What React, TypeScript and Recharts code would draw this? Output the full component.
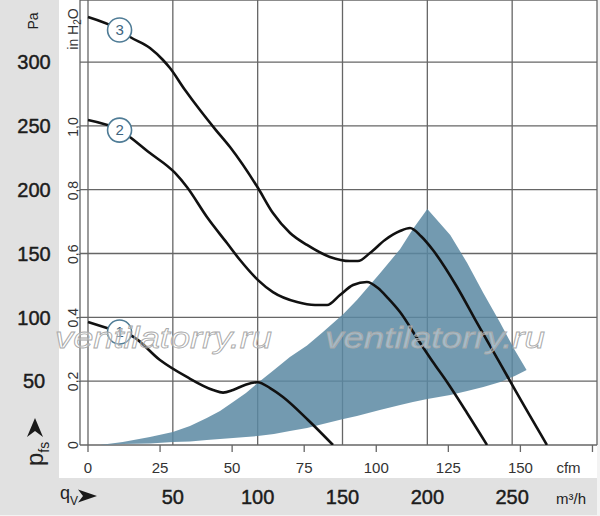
import React from 'react';
import { ComposedChart, Line, Area, XAxis, YAxis, CartesianGrid, ReferenceDot } from 'recharts';

const FONT = '"Liberation Sans", Arial, Helvetica, sans-serif';
const PA_PER_INH2O = 249.089;
const M3H_PER_CFM = 1.699011;

// fan curves: x = volume flow (m³/h), p = static pressure (Pa)
const curve1 = [
  { x: 0, p: 96.3 }, { x: 18.6, p: 88.5 }, { x: 25.9, p: 85.4 }, { x: 42.4, p: 66.6 },
  { x: 58.3, p: 53.3 }, { x: 73.7, p: 43.1 }, { x: 79.6, p: 41 }, { x: 85.5, p: 43.1 },
  { x: 92.5, p: 47 }, { x: 100, p: 49.2 }, { x: 107.3, p: 44.6 }, { x: 114.9, p: 37.6 },
  { x: 129.7, p: 19.6 }, { x: 144.4, p: 0 },
];
const curve2 = [
  { x: 0, p: 254.6 }, { x: 18.6, p: 246.7 }, { x: 36.5, p: 228.7 }, { x: 51.3, p: 213.1 },
  { x: 58.3, p: 202.1 }, { x: 70.1, p: 178.6 }, { x: 81.9, p: 158.2 }, { x: 89.6, p: 144.9 },
  { x: 100.2, p: 129.2 }, { x: 109, p: 119.8 }, { x: 123.2, p: 112 }, { x: 133.8, p: 109.7 },
  { x: 140.9, p: 109.7 }, { x: 148.5, p: 117.5 }, { x: 156.2, p: 125.3 }, { x: 164.4, p: 127.7 },
  { x: 170.9, p: 123 }, { x: 176.8, p: 115.1 }, { x: 183.9, p: 104.2 }, { x: 193.9, p: 83.8 },
  { x: 203.3, p: 65 }, { x: 211.6, p: 49.3 }, { x: 223.4, p: 25.1 }, { x: 235.2, p: 0 },
];
const curve3 = [
  { x: 0, p: 335.2 }, { x: 18.6, p: 325.1 }, { x: 24.8, p: 319.6 }, { x: 36.5, p: 311 },
  { x: 44.2, p: 301.6 }, { x: 48.3, p: 295.3 }, { x: 57.2, p: 278.1 }, { x: 66, p: 262.4 },
  { x: 74.9, p: 247.5 }, { x: 83.7, p: 233.4 }, { x: 100.2, p: 201.3 },
  { x: 109, p: 181.7 }, { x: 119.1, p: 166.1 }, { x: 129.1, p: 156.7 }, { x: 142.6, p: 147.3 },
  { x: 154.4, p: 144.1 }, { x: 159.1, p: 144.1 }, { x: 166.2, p: 150.4 }, { x: 175, p: 160.6 },
  { x: 183.9, p: 167.6 }, { x: 189.8, p: 170 }, { x: 196.3, p: 163.5 }, { x: 203.3, p: 152.7 },
  { x: 217.5, p: 123.8 }, { x: 229.3, p: 95.6 }, { x: 242.8, p: 64.2 }, { x: 251.7, p: 43.1 },
  { x: 270.5, p: 0 },
];

// recommended operating zone (shaded)
const zoneFlow = [7, 20.5, 36.5, 50, 60.1, 70, 77.8, 85.5, 93.1, 100, 109.6, 119, 129.1, 138.5, 150.5, 158.5, 172, 184, 191.5, 200, 213.5, 223.5, 233, 243, 251.5, 258.5];
const zoneLow = [0, 0.8, 1.2, 2.3, 2.7, 3.9, 4.7, 5.5, 6.3, 7, 8.6, 11, 13.3, 16.4, 20.4, 22.7, 27.4, 31.3, 33.7, 36, 39.2, 42.3, 45.4, 49.3, 54, 58.7];
const zoneHigh = [0, 2.3, 6.3, 10.2, 14.9, 21.1, 26.6, 33.7, 40.7, 48.6, 58.7, 68.9, 78, 88.5, 102.6, 113.6, 134.4, 153.5, 169.2, 184.9, 164.5, 142.6, 119.1, 95.6, 74.4, 58.7];
const zoneData = zoneFlow.map((x, i) => ({ x, r: [zoneLow[i], zoneHigh[i]] }));

const paTicks = [0, 50, 100, 150, 200, 250, 300];
const inTicks = [0, 0.2, 0.4, 0.6, 0.8, 1.0];
const cfmTicks = [0, 25, 50, 75, 100, 125, 150, 175];
const m3hTicks = [0, 50, 100, 150, 200, 250, 300];
const curveNames = ['1', '2', '3'];
const curves = [curve1, curve2, curve3];
const cfmAnchor = cfmTicks.map((v) => ({ cfm: v }));

const X_MIN = -4.715;
const X_MAX = 300;
const Y_MAX = 348.6;

const PaTick = (props: any) => {
  const { x, y, payload } = props;
  if (payload.value === 0) return <g />;
  return (
    <text x={x - 26} y={y} dy="0.36em" textAnchor="middle" fontSize={20} fill="#1c1c1c" stroke="#1c1c1c" strokeWidth={0.45} fontFamily={FONT}>
      {payload.value}
    </text>
  );
};

const InTick = (props: any) => {
  const { x, y, payload } = props;
  const cx = x - 7;
  const v = payload.value === 0 ? '0' : Number(payload.value).toFixed(1).replace('.', ',');
  return (
    <text x={cx} y={y} dy="0.36em" textAnchor="middle" transform={`rotate(-90 ${cx} ${y})`} fontSize={14} fill="#333" fontFamily={FONT}>
      {v}
    </text>
  );
};

const CfmTick = (props: any) => {
  const { x, y, payload } = props;
  if (payload.value === 175) {
    return (
      <text x={x - 24} y={y + 21} textAnchor="middle" fontSize={15} fill="#333" fontFamily={FONT}>cfm</text>
    );
  }
  return (
    <text x={x} y={y + 21} textAnchor="middle" fontSize={15} fill="#333" fontFamily={FONT}>{payload.value}</text>
  );
};

const M3hTick = (props: any) => {
  const { x, y, payload } = props;
  if (payload.value === 0) return <g />;
  if (payload.value === 300) {
    return (
      <text x={x - 26} y={y + 29} textAnchor="middle" fontSize={15} fill="#222" fontFamily={FONT}>m³/h</text>
    );
  }
  return (
    <text x={x} y={y + 29} textAnchor="middle" fontSize={20} fill="#1c1c1c" stroke="#1c1c1c" strokeWidth={0.45} fontFamily={FONT}>{payload.value}</text>
  );
};

const paTitle = (props: any) => {
  const vb = props.viewBox || { x: 0, y: 0, width: 60, height: 445 };
  const cx = vb.x + 33;
  const ty = vb.y + 21;
  const b = vb.y + vb.height;
  const ax = vb.x + 35;
  const px = vb.x + 43;
  const py = b + 21;
  return (
    <g>
      <text x={cx} y={ty} dy="0.35em" textAnchor="middle" transform={`rotate(-90 ${cx} ${ty})`} fontSize={14} fill="#222" fontFamily={FONT}>Pa</text>
      <path d={`M${ax} ${b - 27} L${ax + 8} ${b - 8} L${ax} ${b - 14} L${ax - 8} ${b - 8} Z`} fill="#1a1a1a" />
      <text x={px} y={py} transform={`rotate(-90 ${px} ${py})`} fill="#222" fontFamily={FONT}>
        <tspan fontSize={24}>p</tspan>
        <tspan fontSize={14} dy={6}>fs</tspan>
      </text>
    </g>
  );
};

const inTitle = (props: any) => {
  const vb = props.viewBox || { x: 60, y: 0, width: 20, height: 445 };
  const cx = vb.x + 13;
  const cy = vb.y + 29;
  return (
    <text x={cx} y={cy} dy="0.36em" textAnchor="middle" transform={`rotate(-90 ${cx} ${cy})`} fontSize={14} fill="#333" fontFamily={FONT}>
      <tspan>in H</tspan>
      <tspan fontSize={10} dy={3}>2</tspan>
      <tspan dy={-3}>O</tspan>
    </text>
  );
};

const qTitle = (props: any) => {
  const vb = props.viewBox || { x: 80, y: 475, width: 517, height: 41 };
  const x0 = vb.x;
  const yb = vb.y + 23.5;
  return (
    <g>
      <text x={x0 - 20} y={yb} fill="#222" fontFamily={FONT}>
        <tspan fontSize={18}>q</tspan>
        <tspan fontSize={12} dy={6}>V</tspan>
      </text>
      <path d={`M${x0 - 2} ${yb - 9} L${x0 + 17} ${yb - 2.5} L${x0 - 2} ${yb + 4} L${x0 + 3} ${yb - 2.5} Z`} fill="#1a1a1a" />
    </g>
  );
};

export default function App() {
  return (
    <div style={{ position: 'relative', width: 600, height: 516, background: '#f3f3f3', fontFamily: FONT }}>
      <style>{`body{margin:0;}`}</style>
      <div style={{ position: 'absolute', left: 0, top: 0, width: 597, height: 515, background: '#e1e1e1' }} />
      <div style={{ position: 'absolute', left: 59, top: 0, width: 538, height: 478, background: '#ffffff' }} />
      <div style={{ position: 'absolute', left: 0, top: 0 }}>
        <ComposedChart width={600} height={516} margin={{ top: 0, right: 3, bottom: 0, left: 0 }}>
          <CartesianGrid xAxisId="m" yAxisId="pa" stroke="#666666" strokeWidth={1.3} />
          <XAxis
            xAxisId="c"
            dataKey="cfm"
            type="number"
            domain={[X_MIN / M3H_PER_CFM, X_MAX / M3H_PER_CFM]}
            allowDataOverflow
            ticks={cfmTicks}
            interval={0}
            height={30}
            tickSize={7}
            tickMargin={0}
            axisLine={false}
            tickLine={{ stroke: '#666666', strokeWidth: 1.3 }}
            tick={CfmTick}
          />
          <XAxis
            xAxisId="m"
            dataKey="x"
            type="number"
            domain={[X_MIN, X_MAX]}
            allowDataOverflow
            ticks={m3hTicks}
            interval={0}
            height={41}
            tickSize={0}
            tickMargin={0}
            axisLine={false}
            tickLine={false}
            tick={M3hTick}
            label={qTitle}
          />
          <YAxis
            yAxisId="h"
            type="number"
            domain={[0, Y_MAX / PA_PER_INH2O]}
            allowDataOverflow
            ticks={inTicks}
            interval={0}
            width={20}
            tickSize={0}
            tickMargin={0}
            axisLine={false}
            tickLine={false}
            tick={InTick}
            label={inTitle}
          />
          <YAxis
            yAxisId="pa"
            type="number"
            domain={[0, Y_MAX]}
            allowDataOverflow
            ticks={paTicks}
            interval={0}
            width={60}
            tickSize={0}
            tickMargin={0}
            axisLine={false}
            tickLine={false}
            tick={PaTick}
            label={paTitle}
          />
          <Area
            xAxisId="m"
            yAxisId="pa"
            data={zoneData}
            dataKey="r"
            type="linear"
            fill="#5a88a2"
            fillOpacity={0.85}
            stroke="none"
            isAnimationActive={false}
            dot={false}
            activeDot={false}
          />
          <Line
            xAxisId="c"
            yAxisId="pa"
            data={cfmAnchor}
            dataKey="none"
            stroke="none"
            dot={false}
            activeDot={false}
            legendType="none"
            isAnimationActive={false}
          />
          {curves.map((c, i) => (
            <Line
              key={`c${i}`}
              xAxisId="m"
              yAxisId="pa"
              data={c}
              dataKey="p"
              type="monotone"
              stroke="#111111"
              strokeWidth={2.6}
              dot={false}
              activeDot={false}
              isAnimationActive={false}
            />
          ))}
          {curves.map((c, i) => (
            <ReferenceDot
              key={`d${i}`}
              xAxisId="m"
              yAxisId="pa"
              x={c[1].x}
              y={c[1].p}
              r={12}
              fill="#ffffff"
              stroke="#4f7c96"
              strokeWidth={1.6}
              label={{ value: curveNames[i], position: 'center', fill: '#3d6580', fontSize: 15, fontFamily: FONT }}
            />
          ))}
        </ComposedChart>
      </div>
      <svg width={600} height={516} style={{ position: 'absolute', left: 0, top: 0, pointerEvents: 'none' }}>
        <text x={55} y={348} fontSize={29} fontStyle="italic" fontFamily={FONT} fill="rgba(255,255,255,0.35)" stroke="#a9a9a9" strokeWidth={0.8} textLength={217} lengthAdjust="spacingAndGlyphs">ventilatorry.ru</text>
        <text x={325} y={348} fontSize={29} fontStyle="italic" fontFamily={FONT} fill="rgba(255,255,255,0.35)" stroke="#a9a9a9" strokeWidth={0.8} textLength={220} lengthAdjust="spacingAndGlyphs">ventilatorry.ru</text>
      </svg>
    </div>
  );
}
